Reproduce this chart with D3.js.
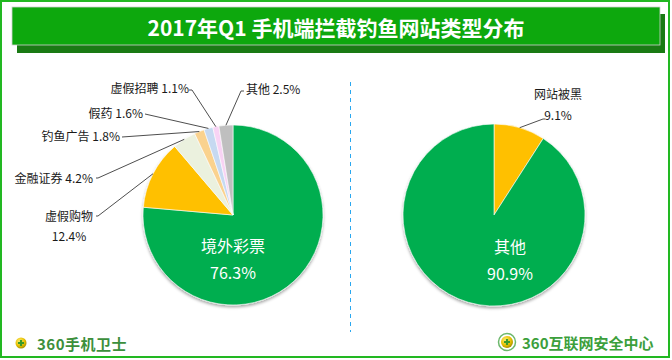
<!DOCTYPE html>
<html><head><meta charset="utf-8">
<script src="https://cdn.jsdelivr.net/npm/d3@7"></script>
<style>
html,body{margin:0;padding:0;background:#fff;}
svg{display:block;font-family:"Noto Sans CJK SC","Noto Sans",sans-serif;}
</style></head>
<body>
<svg id="chart" width="672" height="360"></svg>
<script>
// ---- data ----
const title = "2017年Q1 手机端拦截钓鱼网站类型分布";
const leftCategories = ["境外彩票","虚假购物","金融证券","钓鱼广告","假药","虚假招聘","其他"];
const leftValues = [76.3,12.4,4.2,1.8,1.6,1.1,2.5];
const rightCategories = ["网站被黑","其他"];
const rightValues = [9.1,90.9];
const footerLeft = "360手机卫士";
const footerRight = "360互联网安全中心";

// ---- styles / layout ----
const leftColors = ["#00AE50","#FFC000","#EBF1DE","#FAD28E","#C6D9F1","#F8D3F4","#BFBFBF"];
const rightColors = ["#FFC000","#00AE50"];
const fmt = v => d3.format(".1f")(v) + "%";

const svg = d3.select("#chart");
const defs = svg.append("defs");
const f = defs.append("filter").attr("id","sh").attr("x","-20%").attr("y","-20%").attr("width","140%").attr("height","140%");
f.append("feDropShadow").attr("dx",0).attr("dy",2).attr("stdDeviation",1.5).attr("flood-color","#000").attr("flood-opacity",0.35);

// outer frame
svg.append("rect").attr("x",1).attr("y",1).attr("width",668).attr("height",356)
  .attr("fill","none").attr("stroke","#22B822").attr("stroke-width",2);

// title bar
svg.append("rect").attr("x",17).attr("y",14).attr("width",648).attr("height",39).attr("fill","#1A7A14");
svg.append("rect").attr("x",12).attr("y",7).attr("width",648).attr("height",38)
  .attr("fill","#0DA80D").attr("stroke","#d0d0d0").attr("stroke-width",0.8);
svg.append("text").attr("x",336).attr("y",27).attr("text-anchor","middle").attr("dominant-baseline","central")
  .attr("fill","#fff").attr("font-size",21).attr("font-weight","bold").text(title);

// divider
svg.append("line").attr("x1",350.5).attr("x2",350.5).attr("y1",82).attr("y2",332)
  .attr("stroke","#2AA8F0").attr("stroke-width",1).attr("stroke-dasharray","4,4");

const pie = d3.pie().sort(null).value(d => d);

function drawPie(cx, cy, r, values, colors) {
  const g = svg.append("g").attr("transform",`translate(${cx},${cy})`);
  const arcs = pie(values);
  const arc = d3.arc().innerRadius(0).outerRadius(r);
  g.append("g").attr("filter","url(#sh)").selectAll("path").data(arcs).enter().append("path")
    .attr("d",arc).attr("fill",(d,i)=>colors[i]).attr("stroke","#fff").attr("stroke-width",0.6);
  return {g, arcs, r, cx, cy};
}

function edgePoint(p, a) {
  const ang = (a.startAngle + a.endAngle)/2;
  return [p.cx + p.r*Math.sin(ang), p.cy - p.r*Math.cos(ang)];
}

const L = drawPie(233, 215, 90, leftValues, leftColors);
const R = drawPie(494, 215, 91, rightValues, rightColors);

const labelFont = 12;
function label(x, y, txt, anchor) {
  svg.append("text").attr("x",x).attr("y",y).attr("text-anchor",anchor||"start")
    .attr("dominant-baseline","central").attr("font-size",labelFont).attr("fill","#1a1a1a").text(txt);
}
function leader(pts) {
  svg.append("path").attr("d",d3.line()(pts)).attr("fill","none").attr("stroke","#3a3a3a").attr("stroke-width",0.9);
}

// inside labels
function inside(x, y, name, val) {
  svg.append("text").attr("x",x).attr("y",y).attr("text-anchor","middle").attr("dominant-baseline","central")
    .attr("font-size",16).attr("fill","#fff").text(name);
  svg.append("text").attr("x",x).attr("y",y+27).attr("text-anchor","middle").attr("dominant-baseline","central")
    .attr("font-size",16).attr("fill","#fff").text(fmt(val));
}
inside(233, 245, leftCategories[0], leftValues[0]);
inside(510, 246, rightCategories[1], rightValues[1]);

// left outside labels: [text x, text y, anchor, elbow]
const leftLabelLayout = [
  null,
  {tx:93, ty:215, anchor:"end", elbow:[[96,216],[98,216]], two:true},
  {tx:93, ty:177, anchor:"end", elbow:[[96,178],[98,178]]},
  {tx:120, ty:135, anchor:"end", elbow:[[122,137]]},
  {tx:143, ty:112, anchor:"end", elbow:[[145,114]]},
  {tx:189, ty:87, anchor:"end", elbow:[[189,90],[192,90]]},
  {tx:246, ty:88, anchor:"start", elbow:[[244,91],[241,91]]}
];
leftLabelLayout.forEach((lay, i) => {
  if (!lay) return;
  const p = edgePoint(L, L.arcs[i]);
  leader([...lay.elbow, p]);
  if (lay.two) {
    label(lay.tx, lay.ty, leftCategories[i], "end");
    label(69, lay.ty+20, fmt(leftValues[i]), "middle");
  } else {
    label(lay.tx, lay.ty, leftCategories[i] + " " + fmt(leftValues[i]), lay.anchor);
  }
});

// right outside label
{
  const p = edgePoint(R, R.arcs[0]);
  leader([p, [543,119], [545,119]]);
  label(558, 93, rightCategories[0], "middle");
  label(558, 114, fmt(rightValues[0]), "middle");
}

// footer logos
function logo(x, y, r, ring) {
  const gr = defs.append("radialGradient").attr("id","lg"+x).attr("cx","40%").attr("cy","35%").attr("r","70%");
  gr.append("stop").attr("offset","0%").attr("stop-color","#FFF27A");
  gr.append("stop").attr("offset","60%").attr("stop-color","#E8C000");
  gr.append("stop").attr("offset","100%").attr("stop-color","#9A8A00");
  if (ring) svg.append("circle").attr("cx",x).attr("cy",y).attr("r",r+2.5).attr("fill","none").attr("stroke","#6CB86C").attr("stroke-width",1.5);
  svg.append("circle").attr("cx",x).attr("cy",y).attr("r",r).attr("fill","url(#lg"+x+")");
  svg.append("path").attr("d",`M${x-3},${y}h6M${x},${y-3}v6`).attr("stroke","#3A9A2A").attr("stroke-width",2.2);
}
logo(21, 343, 5.5, false);
logo(507, 342, 6, true);
svg.append("text").attr("x",37).attr("y",343).attr("dominant-baseline","central").attr("font-size",15)
  .attr("font-weight","bold").attr("fill","#3C8F3C").attr("letter-spacing",0.5).text(footerLeft);
svg.append("text").attr("x",522).attr("y",342).attr("dominant-baseline","central").attr("font-size",15)
  .attr("font-weight","bold").attr("fill","#3C9F3C").text(footerRight);
</script>
</body></html>
